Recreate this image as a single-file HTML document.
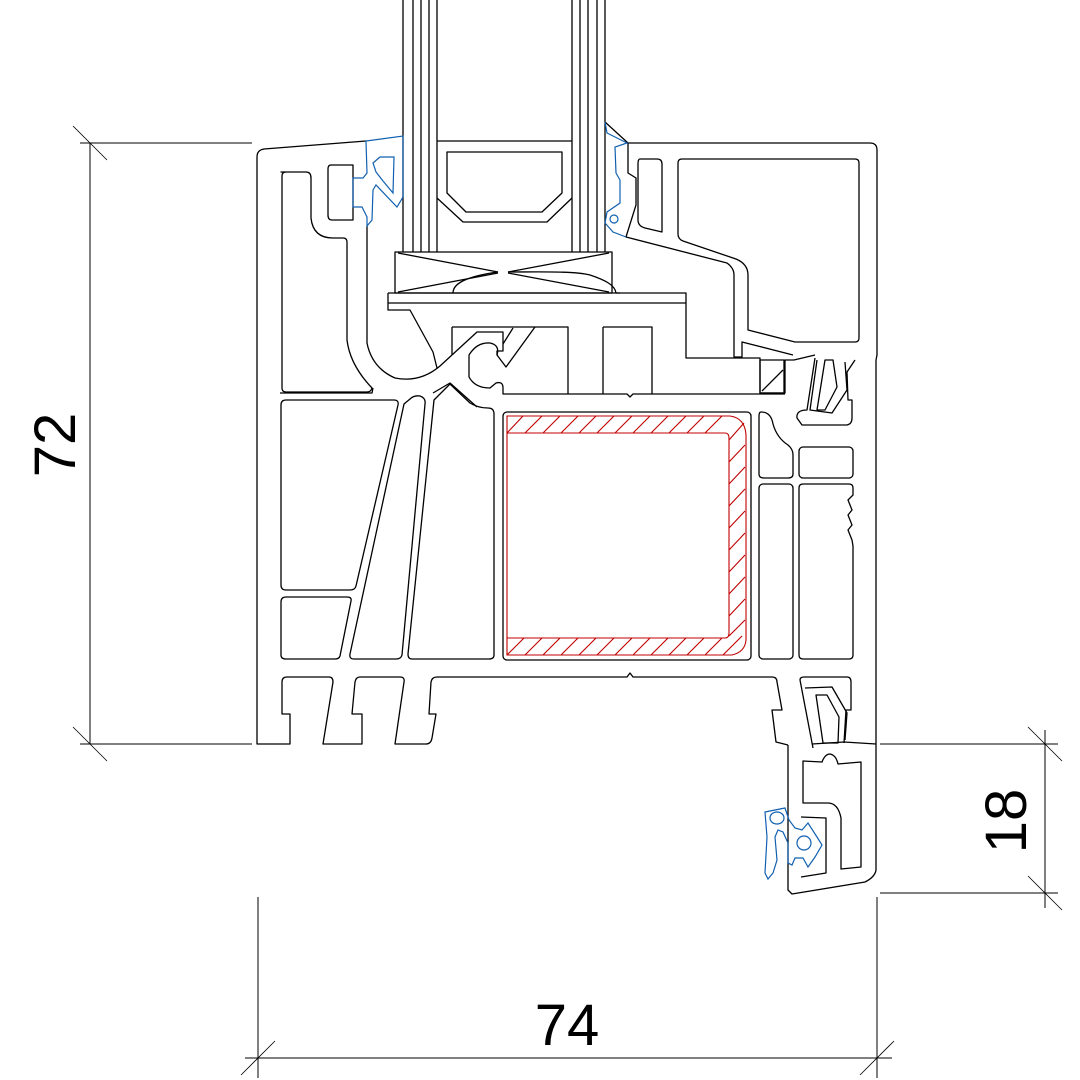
<!DOCTYPE html>
<html><head><meta charset="utf-8"><style>
html,body{margin:0;padding:0;background:#fff;}
svg{display:block;}
text{font-family:"Liberation Sans",sans-serif;fill:#000;}
</style></head><body>
<svg width="1080" height="1080" viewBox="0 0 1080 1080" xmlns="http://www.w3.org/2000/svg">
<g fill="none" stroke="#000" stroke-width="1.3" stroke-linejoin="round">
<!-- dimensions -->
<line x1="90" y1="143" x2="90" y2="744" stroke-width="1"/>
<line x1="80" y1="143" x2="252" y2="143" stroke-width="1"/>
<line x1="80" y1="744" x2="252" y2="744" stroke-width="1"/>
<line x1="73" y1="126" x2="107" y2="160" stroke-width="0.8"/>
<line x1="73" y1="727" x2="107" y2="761" stroke-width="0.8"/>
<line x1="258" y1="897" x2="258" y2="1078" stroke-width="1"/>
<line x1="877" y1="897" x2="877" y2="1078" stroke-width="1"/>
<line x1="245" y1="1058" x2="892" y2="1058" stroke-width="1"/>
<line x1="241" y1="1075" x2="275" y2="1041" stroke-width="0.8"/>
<line x1="860" y1="1075" x2="894" y2="1041" stroke-width="0.8"/>
<line x1="880" y1="744" x2="1058" y2="744" stroke-width="1"/>
<line x1="880" y1="893" x2="1058" y2="893" stroke-width="1"/>
<line x1="1045" y1="730" x2="1045" y2="908" stroke-width="1"/>
<line x1="1028" y1="727" x2="1062" y2="761" stroke-width="0.8"/>
<line x1="1028" y1="876" x2="1062" y2="910" stroke-width="0.8"/>

<!-- glass -->
<path d="M403 0V252M413 0V252M421 0V252M429 0V252M437 0V252M572 0V252M580 0V252M588 0V252M597 0V252M605 0V252"/>
<path d="M437 141H572"/>
<path d="M447 152H562V193L542 212H466L447 193Z"/>
<path d="M437 198L463 222H547L572 198"/>
<!-- glazing block -->
<rect x="395" y="252" width="217" height="41"/>
<path d="M398 253L498 272M398 292L498 273M609 253L508 272M609 292L508 273"/>
<path d="M453 293C453 285 462 277 498 272M508 272C540 272 575 271 590 275C605 280 615 285 616 293H620"/>
<!-- bead bar -->
<path d="M388 293H686V358H760V393H785V360H794L815 355"/>
<path d="M388 303H686"/>
<path d="M388 293V310H410L433 352L437 368"/>
<rect x="760" y="360" width="24" height="33"/>
<path d="M762 391L783 370"/>
<!-- right sash -->
<path d="M605 122L628 143H870Q877 143 877 150V355L876 360"/>
<path d="M628 143V173L636 178V205L626 237L727 263Q734 268 734 275V357H742V342L793 355"/>
<path d="M640 159H657Q662 159 662 164V232L645 228Q638 226 638 220V164Q638 159 640 159Z"/>
<path d="M682 159H855Q859 159 859 163V338Q859 342 855 342H795L748 330V275Q748 264 736 259L683 241Q678 239 678 234V163Q678 159 682 159Z"/>
<!-- left sash & frame outer -->
<path d="M366 141L264 149Q257 150 257 157V744H290V714H282V682Q282 677 287 677H329Q333 677 333 682L323 744H362V714H352L355 682Q356 677 360 677H400Q405 677 404 682L395 744H426Q431 744 432 738L436 714H429L431 682Q432 677 437 677H627L630 673L633 677H772Q777 677 777 682L782 710H772L776 742L788 745"/>
<path d="M788 745V890L792 894L865 882Q875 877 876 870V360"/>
<path d="M281 172H306Q311 172 311 178V218Q313 238 333 238H343Q347 238 347 242V340Q350 365 372 388Q371 392 367 392H286Q282 392 282 388V176Q282 172 286 172Z"/>
<path d="M331 165H353V220H332Q328 220 328 215V169Q328 165 331 165Z"/>
<path d="M367 226V343Q372 368 395 378Q420 383 440 366L477 332H503V351H497V355L506 367L535 327"/>
<path d="M452 327V355M452 327H568V394M603 327H652V394M603 327V394"/>
<path d="M513 328L503 344"/>
<path d="M469 355Q477 342 490 343Q500 345 497 355M469 355V377Q475 388 490 388L496 383Q503 381 503 388V394H627L630 397L633 394H785"/>
<!-- upper hook at frame -->
<path d="M815 358L807 410Q796 410 797 418L802 425H847Q852 424 852 418V400H848L847 372L855 360"/>
<path d="M825 360H833L837 387L825 410H817Z"/>
<path d="M817 360L810 410L832 413L847 390L845 362"/>
<!-- lower cells left -->
<path d="M373 388L372 393H280"/>
<path d="M286 400H394Q399 400 398 405L356 586Q355 590 350 590H286Q281 590 281 585V405Q281 400 286 400Z"/>
<path d="M286 597H347Q352 597 351 601L340 656Q339 659 335 659H286Q281 659 281 655V602Q281 597 286 597Z"/>
<path d="M410 399Q414 395 420 396Q426 398 425 404L402 655Q401 659 396 659H354Q349 659 350 654L404 404Z"/>
<path d="M436 398L450 384L470 403Q478 408 488 408Q494 408 494 414V655Q494 659 489 659H412Q408 659 408 654L434 400Z"/>
<path d="M433 393L450 383L477 407"/>
<rect x="503" y="412" width="248" height="248" rx="4"/>
<path d="M761 412Q771 412 773 424Q777 438 788 445Q793 449 793 455V474Q793 478 788 478H764Q759 478 759 474V416Q759 412 761 412Z"/>
<rect x="799" y="447" width="54" height="31" rx="4"/>
<rect x="759" y="484" width="34" height="175" rx="4"/>
<path d="M803 484H849Q853 484 853 488V495L848 500L852 510L848 515L852 525L848 530L852 540L853 546V655Q853 659 849 659H803Q799 659 799 655V488Q799 484 803 484Z"/>
<!-- lower hook -->
<path d="M800 680Q800 677 804 677H847Q851 677 851 682V710H846L844 743"/>
<path d="M805 688L832 687L847 713L845 740"/>
<path d="M816 695H827L839 717L838 743H823Z"/>
<path d="M800 680L813 748"/>
<path d="M812 744L844 742L876 744"/>
<!-- add-on inner -->
<path d="M803 761L822 762Q825 754 830 754Q836 755 838 764L861 762V867L841 869V818Q838 803 828 803H803Z"/>
<path d="M801 817L826 818V873L801 877"/>
</g>
<!-- steel -->
<g fill="none" stroke="#c00000" stroke-width="1.1">
<path d="M507 416H730Q745 418 746 435V640Q745 652 732 655H507Z"/>
<path d="M507 433H725Q729 433 729 438V633Q729 638 725 638H507"/>
<path d="M507 433L523 416M525 433L542 416M543 433L560 416M561 433L578 416M579 433L596 416M597 433L614 416M615 433L632 416M633 433L650 416M651 433L668 416M669 433L686 416M687 433L704 416M705 433L722 416M729 440L744 423M729 462L745 445M729 484L745 467M729 506L745 489M729 528L745 511M729 550L745 533M729 572L745 555M729 594L745 577M729 616L745 599M729 636L745 620M507 655L524 638M525 655L542 638M543 655L560 638M561 655L578 638M579 655L596 638M597 655L614 638M615 655L632 638M633 655L650 638M651 655L668 638M669 655L686 638M687 655L704 638M705 655L722 638M723 655L742 636"/>
</g>
<!-- gaskets -->
<g fill="none" stroke="#1060b0" stroke-width="1.2">
<path d="M366 141L403 136V197L397 207L376 185L373 190L372 220L367 226L367 217L362 207H353V178H363L367 173Z"/>
<path d="M373 163L380 157H394L393 193L383 181L376 172Z"/>
<path d="M605 122L607 133L617 138L627 143L615 147L616 173L620 180L620 203L607 212L605 223L613 232L626 237"/>
<circle cx="614" cy="219" r="4"/>
<path d="M765 812L785 808L789 820L795 828L802 830L808 823L817 837L822 845L815 857L808 867L803 858L795 858L792 865L788 863L788 843L783 832L778 830L775 837L777 860L773 873L768 879L765 873L767 837Z"/>
<ellipse cx="777" cy="818" rx="7" ry="6"/>
<ellipse cx="804" cy="843" rx="7" ry="7"/>
</g>
<text x="0" y="0" font-size="58" transform="translate(75,445) rotate(-90)" text-anchor="middle">72</text>
<text x="567" y="1045" font-size="58" text-anchor="middle">74</text>
<text x="0" y="0" font-size="58" transform="translate(1026,821) rotate(-90)" text-anchor="middle">18</text>
</svg>
</body></html>
